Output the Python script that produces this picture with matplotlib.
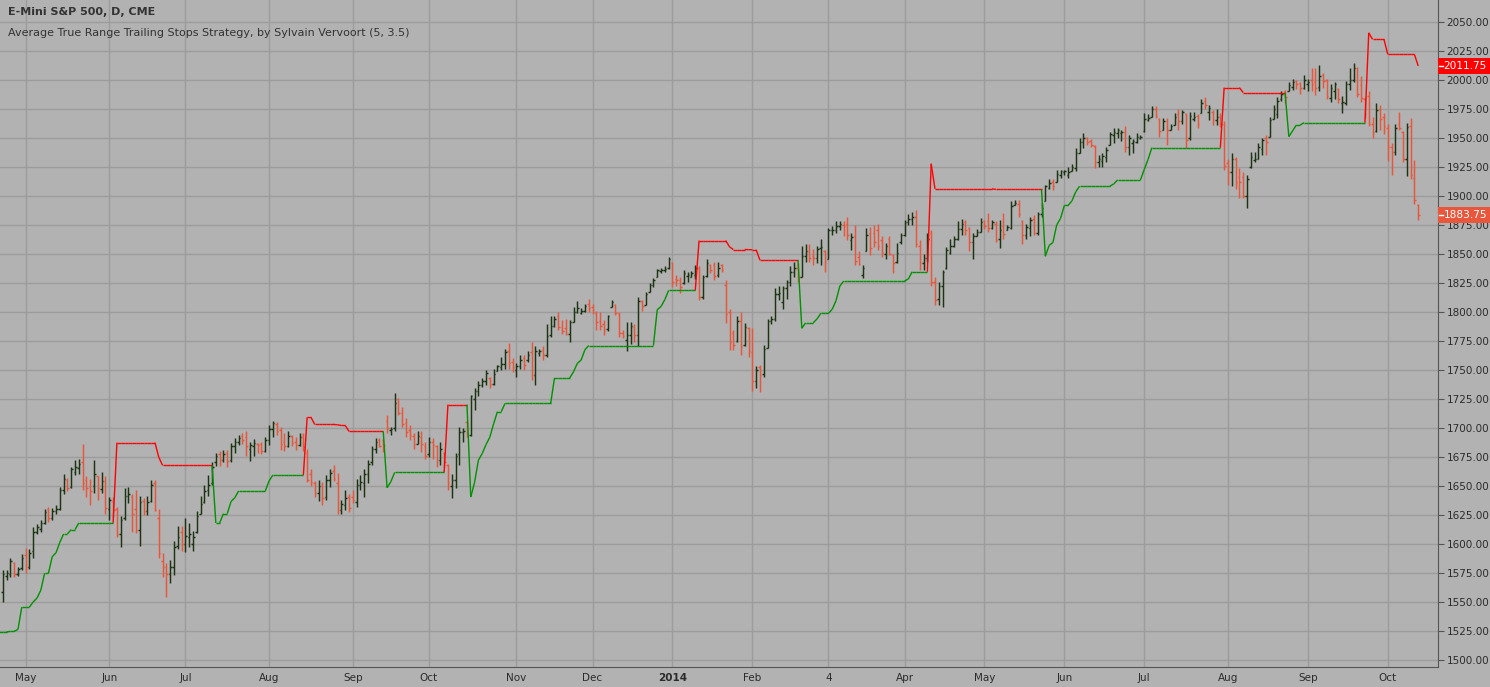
import numpy as np
import pandas as pd
import matplotlib
matplotlib.use('Agg')
import matplotlib.pyplot as plt
from matplotlib.collections import LineCollection
from matplotlib.lines import Line2D
from matplotlib.patches import Rectangle
import matplotlib.transforms as mtransforms

# E-Mini S&P 500 daily bars, 2013-04-23 .. 2014-10-13
opens = [
    1558, 1572, 1574, 1583, 1574, 1579, 1590, 1580, 1594, 1610, 1613, 1618, 1630, 1622, 1628, 1630, 1646, 1655, 1649, 1662,
    1665, 1670, 1655, 1650, 1650, 1658, 1647, 1654, 1630, 1637, 1630, 1608, 1622, 1641, 1640, 1630, 1612, 1637, 1628, 1637,
    1652, 1622, 1585, 1580, 1574, 1580, 1598, 1610, 1600, 1606, 1600, 1610, 1626, 1636, 1646, 1652, 1670, 1677, 1672, 1678,
    1672, 1684, 1688, 1693, 1692, 1682, 1684, 1686, 1686, 1680, 1689, 1699, 1703, 1698, 1688, 1684, 1693, 1688, 1685, 1692,
    1678, 1660, 1652, 1644, 1650, 1640, 1655, 1663, 1652, 1629, 1633, 1640, 1640, 1636, 1651, 1652, 1660, 1670, 1682, 1689,
    1689, 1706, 1698, 1700, 1725, 1713, 1704, 1698, 1693, 1686, 1692, 1684, 1677, 1688, 1684, 1672, 1678, 1668, 1650, 1655,
    1677, 1696, 1705, 1694, 1725, 1732, 1737, 1740, 1743, 1738, 1749, 1752, 1755, 1766, 1757, 1750, 1753, 1760, 1758, 1765,
    1745, 1764, 1767, 1763, 1780, 1788, 1796, 1787, 1786, 1781, 1791, 1800, 1799, 1801, 1807, 1804, 1799, 1792, 1789, 1785,
    1804, 1806, 1798, 1782, 1776, 1780, 1787, 1780, 1809, 1806, 1817, 1823, 1830, 1835, 1836, 1838, 1842, 1828, 1827, 1825,
    1831, 1830, 1832, 1838, 1813, 1831, 1840, 1840, 1832, 1840, 1823, 1800, 1782, 1775, 1792, 1771, 1786, 1765, 1740, 1752,
    1746, 1769, 1792, 1794, 1815, 1808, 1820, 1826, 1834, 1838, 1830, 1848, 1852, 1848, 1846, 1855, 1852, 1845, 1870, 1870,
    1874, 1875, 1876, 1862, 1865, 1847, 1832, 1852, 1868, 1868, 1870, 1862, 1850, 1863, 1849, 1843, 1860, 1866, 1877, 1880,
    1882, 1857, 1842, 1846, 1868, 1826, 1811, 1822, 1838, 1851, 1857, 1863, 1871, 1877, 1872, 1860, 1865, 1869, 1878, 1878,
    1872, 1876, 1863, 1874, 1870, 1872, 1892, 1893, 1878, 1866, 1872, 1880, 1868, 1884, 1895, 1907, 1912, 1912, 1918, 1920,
    1918, 1921, 1924, 1937, 1946, 1950, 1947, 1943, 1929, 1930, 1933, 1944, 1952, 1954, 1954, 1955, 1942, 1945, 1946, 1950,
    1956, 1965, 1968, 1975, 1966, 1957, 1964, 1957, 1961, 1970, 1964, 1970, 1950, 1966, 1969, 1971, 1982, 1972, 1972, 1965,
    1968, 1962, 1928, 1920, 1932, 1916, 1916, 1900, 1925, 1931, 1932, 1940, 1950, 1951, 1966, 1970, 1983, 1990, 1990, 1994,
    1999, 1997, 1993, 1996, 2000, 1998, 1994, 2004, 2000, 1984, 1990, 1992, 1980, 1980, 1996, 2000, 2010, 1995, 1983, 1986,
    1962, 1956, 1975, 1968, 1958, 1942, 1938, 1962, 1955, 1932, 1960, 1915, 1892,
]
highs = [
    1577, 1577, 1588, 1584, 1580, 1591, 1596, 1595, 1614, 1617, 1620, 1630, 1632, 1631, 1633, 1649, 1660, 1657, 1666, 1672,
    1673, 1686, 1658, 1656, 1672, 1658, 1662, 1658, 1640, 1640, 1632, 1624, 1648, 1649, 1643, 1646, 1641, 1639, 1641, 1655,
    1655, 1630, 1592, 1583, 1586, 1602, 1615, 1615, 1622, 1618, 1611, 1628, 1641, 1651, 1659, 1670, 1678, 1680, 1681, 1681,
    1687, 1691, 1694, 1695, 1697, 1688, 1690, 1687, 1688, 1692, 1702, 1706, 1705, 1701, 1695, 1697, 1694, 1692, 1695, 1695,
    1682, 1664, 1654, 1655, 1653, 1659, 1664, 1668, 1661, 1638, 1646, 1643, 1646, 1656, 1659, 1664, 1672, 1684, 1691, 1691,
    1690, 1711, 1701, 1730, 1726, 1718, 1708, 1702, 1695, 1697, 1697, 1688, 1692, 1691, 1685, 1688, 1679, 1669, 1660, 1678,
    1701, 1700, 1706, 1728, 1734, 1740, 1743, 1750, 1744, 1751, 1754, 1761, 1768, 1773, 1760, 1756, 1763, 1763, 1766, 1774,
    1770, 1768, 1770, 1789, 1796, 1796, 1800, 1793, 1794, 1793, 1804, 1809, 1803, 1807, 1811, 1807, 1801, 1800, 1793, 1797,
    1810, 1807, 1800, 1784, 1791, 1791, 1789, 1813, 1810, 1817, 1825, 1829, 1837, 1838, 1839, 1847, 1843, 1832, 1830, 1836,
    1834, 1835, 1840, 1839, 1832, 1845, 1841, 1843, 1843, 1841, 1827, 1802, 1784, 1796, 1800, 1790, 1787, 1786, 1753, 1754,
    1771, 1794, 1796, 1820, 1822, 1822, 1827, 1839, 1843, 1842, 1857, 1858, 1858, 1854, 1857, 1863, 1853, 1872, 1874, 1878,
    1878, 1878, 1882, 1868, 1875, 1852, 1840, 1872, 1873, 1875, 1876, 1865, 1859, 1865, 1850, 1859, 1868, 1879, 1884, 1886,
    1888, 1862, 1850, 1868, 1870, 1830, 1826, 1836, 1856, 1863, 1865, 1878, 1880, 1879, 1873, 1868, 1871, 1881, 1879, 1885,
    1879, 1878, 1879, 1885, 1875, 1895, 1896, 1896, 1879, 1876, 1882, 1883, 1886, 1894, 1909, 1914, 1914, 1922, 1922, 1922,
    1925, 1927, 1941, 1950, 1954, 1951, 1949, 1944, 1935, 1937, 1942, 1955, 1958, 1958, 1957, 1960, 1952, 1949, 1954, 1952,
    1971, 1970, 1977, 1977, 1967, 1967, 1967, 1962, 1971, 1975, 1974, 1971, 1972, 1972, 1970, 1983, 1985, 1978, 1974, 1975,
    1971, 1964, 1932, 1937, 1933, 1924, 1920, 1918, 1938, 1938, 1945, 1950, 1952, 1968, 1978, 1985, 1990, 1991, 1998, 2001,
    2000, 1998, 2004, 2001, 2010, 2010, 2013, 2006, 2001, 1996, 1998, 1993, 1986, 1999, 2010, 2014, 2011, 2003, 1985, 1990,
    1968, 1980, 1978, 1971, 1962, 1945, 1962, 1972, 1956, 1963, 1967, 1931, 1893,
]
lows = [
    1550, 1569, 1571, 1571, 1572, 1577, 1575, 1578, 1588, 1608, 1610, 1617, 1619, 1620, 1626, 1629, 1643, 1645, 1648, 1659,
    1660, 1646, 1640, 1633, 1644, 1638, 1644, 1626, 1620, 1623, 1606, 1597, 1620, 1635, 1610, 1609, 1598, 1625, 1625, 1636,
    1628, 1588, 1571, 1554, 1566, 1573, 1595, 1594, 1593, 1597, 1594, 1609, 1626, 1635, 1641, 1651, 1667, 1667, 1670, 1666,
    1670, 1678, 1685, 1686, 1676, 1671, 1676, 1678, 1677, 1679, 1685, 1692, 1694, 1681, 1680, 1683, 1684, 1681, 1684, 1680,
    1653, 1650, 1640, 1637, 1633, 1638, 1649, 1654, 1626, 1626, 1629, 1627, 1635, 1632, 1646, 1640, 1652, 1668, 1678, 1683,
    1679, 1695, 1694, 1697, 1711, 1701, 1692, 1689, 1682, 1686, 1679, 1673, 1675, 1673, 1666, 1668, 1666, 1646, 1639, 1648,
    1668, 1688, 1692, 1693, 1715, 1727, 1735, 1737, 1734, 1737, 1749, 1750, 1751, 1751, 1748, 1744, 1751, 1750, 1757, 1741,
    1737, 1762, 1758, 1761, 1778, 1787, 1784, 1781, 1780, 1774, 1791, 1799, 1798, 1800, 1800, 1798, 1784, 1784, 1780, 1783,
    1804, 1797, 1778, 1777, 1766, 1772, 1774, 1770, 1801, 1806, 1817, 1821, 1830, 1833, 1834, 1837, 1821, 1822, 1816, 1824,
    1826, 1830, 1828, 1810, 1811, 1830, 1833, 1827, 1830, 1834, 1790, 1767, 1767, 1774, 1763, 1770, 1761, 1732, 1734, 1731,
    1744, 1769, 1789, 1792, 1810, 1802, 1811, 1822, 1830, 1826, 1830, 1843, 1843, 1840, 1842, 1840, 1834, 1845, 1866, 1868,
    1870, 1865, 1862, 1853, 1840, 1840, 1829, 1852, 1849, 1856, 1853, 1847, 1845, 1849, 1833, 1842, 1858, 1865, 1875, 1875,
    1856, 1836, 1836, 1843, 1822, 1806, 1806, 1804, 1837, 1850, 1856, 1862, 1866, 1866, 1852, 1845, 1865, 1869, 1871, 1869,
    1871, 1860, 1855, 1863, 1870, 1871, 1892, 1882, 1858, 1863, 1865, 1866, 1866, 1882, 1895, 1906, 1905, 1912, 1915, 1918,
    1915, 1921, 1921, 1937, 1941, 1944, 1942, 1924, 1925, 1925, 1929, 1944, 1945, 1950, 1947, 1938, 1935, 1937, 1945, 1949,
    1955, 1964, 1968, 1967, 1951, 1957, 1944, 1957, 1961, 1957, 1962, 1941, 1948, 1964, 1958, 1971, 1975, 1965, 1961, 1961,
    1959, 1922, 1909, 1908, 1906, 1898, 1898, 1889, 1924, 1929, 1932, 1935, 1935, 1951, 1966, 1967, 1982, 1980, 1990, 1991,
    1992, 1988, 1992, 1990, 1990, 1987, 1990, 1993, 1983, 1981, 1983, 1980, 1971, 1978, 1991, 1998, 1985, 1981, 1967, 1960,
    1950, 1955, 1957, 1953, 1930, 1918, 1935, 1957, 1929, 1917, 1914, 1893, 1879,
]
closes = [
    1574, 1575, 1585, 1574, 1578, 1588, 1580, 1592, 1610, 1614, 1618, 1627, 1622, 1628, 1630, 1646, 1656, 1648, 1664, 1666,
    1669, 1652, 1648, 1645, 1660, 1648, 1654, 1631, 1638, 1629, 1608, 1620, 1641, 1643, 1626, 1612, 1636, 1628, 1636, 1651,
    1629, 1592, 1580, 1574, 1580, 1597, 1606, 1600, 1607, 1608, 1606, 1624, 1634, 1645, 1651, 1666, 1676, 1672, 1677, 1671,
    1684, 1688, 1691, 1689, 1684, 1685, 1687, 1685, 1680, 1689, 1699, 1704, 1697, 1686, 1684, 1693, 1687, 1685, 1692, 1683,
    1655, 1653, 1644, 1650, 1639, 1655, 1661, 1656, 1629, 1634, 1639, 1631, 1638, 1651, 1653, 1660, 1669, 1682, 1688, 1684,
    1685, 1700, 1699, 1721, 1713, 1703, 1696, 1694, 1686, 1693, 1686, 1676, 1688, 1685, 1672, 1682, 1670, 1652, 1655, 1676,
    1696, 1697, 1693, 1727, 1732, 1737, 1740, 1747, 1738, 1746, 1753, 1755, 1765, 1756, 1752, 1753, 1758, 1754, 1763, 1745,
    1766, 1766, 1763, 1779, 1788, 1794, 1787, 1783, 1781, 1791, 1800, 1803, 1801, 1805, 1803, 1800, 1791, 1788, 1785, 1796,
    1808, 1799, 1782, 1779, 1780, 1788, 1780, 1809, 1805, 1815, 1823, 1827, 1836, 1836, 1837, 1845, 1826, 1827, 1821, 1833,
    1832, 1833, 1838, 1813, 1830, 1842, 1836, 1831, 1838, 1836, 1798, 1774, 1771, 1792, 1770, 1787, 1766, 1740, 1750, 1745,
    1768, 1792, 1794, 1815, 1816, 1820, 1826, 1834, 1838, 1830, 1848, 1852, 1846, 1846, 1854, 1856, 1843, 1870, 1870, 1874,
    1876, 1874, 1866, 1864, 1844, 1841, 1838, 1866, 1855, 1860, 1857, 1851, 1857, 1850, 1842, 1851, 1866, 1877, 1880, 1882,
    1858, 1842, 1846, 1863, 1826, 1810, 1822, 1834, 1853, 1857, 1863, 1871, 1876, 1870, 1860, 1865, 1869, 1877, 1874, 1872,
    1877, 1862, 1870, 1867, 1873, 1891, 1894, 1884, 1866, 1873, 1879, 1868, 1884, 1889, 1908, 1911, 1908, 1919, 1921, 1921,
    1920, 1925, 1937, 1946, 1950, 1946, 1944, 1929, 1932, 1934, 1939, 1953, 1955, 1957, 1955, 1942, 1950, 1947, 1951, 1951,
    1966, 1967, 1975, 1969, 1956, 1964, 1957, 1960, 1968, 1964, 1972, 1948, 1969, 1968, 1962, 1980, 1978, 1976, 1965, 1968,
    1962, 1926, 1920, 1932, 1912, 1912, 1900, 1914, 1933, 1932, 1942, 1948, 1946, 1965, 1975, 1982, 1988, 1985, 1995, 1998,
    1996, 1993, 2000, 1998, 1996, 1993, 2003, 1999, 1986, 1993, 1996, 1983, 1981, 1996, 2000, 2010, 1988, 1984, 1970, 1962,
    1955, 1974, 1966, 1960, 1942, 1938, 1958, 1958, 1932, 1959, 1918, 1896, 1883.75,
]

# trailing stop level just before the first visible bar
stop_start = 1524.0
atr_len = 5
atr_mult = 3.5
min_tick = 0.25

holidays = ['2013-05-27', '2013-07-04', '2013-09-02', '2013-11-28', '2013-12-25', '2014-01-01',
            '2014-01-20', '2014-02-17', '2014-04-18', '2014-05-26', '2014-07-04', '2014-09-01']
dates = pd.bdate_range('2013-04-23', '2014-10-13', freq='C', holidays=holidays)

bg = '#b2b2b2'
grid_c = '#9c9c9c'
up_c = '#1c3314'
dn_c = '#e8573c'
text_c = '#2b2b2b'

n = len(closes)
o = np.array(opens, float); h = np.array(highs, float)
l = np.array(lows, float); c = np.array(closes, float)

# true range and its 5 bar average
prev_c = np.concatenate([[c[0]], c[:-1]])
tr = np.maximum(h - l, np.maximum(np.abs(h - prev_c), np.abs(l - prev_c)))
atr = pd.Series(tr).rolling(atr_len, min_periods=1).mean().values

# ATR trailing stop (Vervoort)
stop = np.zeros(n)
pos = np.zeros(n, int)
prev_stop, prev_close, prev_pos = stop_start, c[0], 1
for i in range(n):
    loss = atr_mult * atr[i]
    if c[i] > prev_stop and prev_close > prev_stop:
        s = max(prev_stop, c[i] - loss)
    elif c[i] < prev_stop and prev_close < prev_stop:
        s = min(prev_stop, c[i] + loss)
    elif c[i] > prev_stop:
        s = c[i] - loss
    else:
        s = c[i] + loss
    if prev_close < prev_stop and c[i] > prev_stop:
        p = 1
    elif prev_close > prev_stop and c[i] < prev_stop:
        p = -1
    else:
        p = prev_pos
    stop[i], pos[i] = s, p
    prev_stop, prev_close, prev_pos = s, c[i], p

fig = plt.figure(figsize=(14.9, 6.87), dpi=100)
fig.patch.set_facecolor(bg)
ax = fig.add_axes([0, 20 / 687, 1438 / 1490, 667 / 687])
ax.set_facecolor(bg)

# month ticks
tick_pos, tick_lab = [], []
for (yr, mo), grp in pd.Series(np.arange(n), index=dates).groupby([dates.year, dates.month]):
    idx = grp.iloc[0]
    if yr == 2013 and mo == 4:
        continue
    if yr == 2014 and mo == 3:
        idx = idx + 1
        lab = str(dates[idx].day)
    elif mo == 1:
        lab = str(yr)
    else:
        lab = dates[idx].strftime('%b')
    tick_pos.append(idx)
    tick_lab.append(lab)

ax.set_xticks(tick_pos)
ax.set_xticklabels(tick_lab, fontsize=7.5, color=text_c)
for t in ax.get_xticklabels():
    if t.get_text() == '2014':
        t.set_fontweight('bold')
ax.set_yticks(np.arange(1500, 2051, 25))
ax.yaxis.tick_right()
ax.yaxis.set_major_formatter(plt.FormatStrFormatter('%.2f'))
ax.tick_params(axis='y', labelsize=7.5, labelcolor=text_c, color='#555555', length=4, pad=2)
ax.tick_params(axis='x', length=0, pad=4)
ax.grid(True, color=grid_c, linewidth=1.0)
ax.set_axisbelow(True)
for side in ['top', 'left']:
    ax.spines[side].set_visible(False)
ax.spines['right'].set_color('#555555')
ax.spines['bottom'].set_color('#555555')

# OHLC bars
segs, cols = [], []
tk = 0.4
for i in range(n):
    col = up_c if c[i] >= o[i] else dn_c
    segs += [[(i, l[i]), (i, h[i])], [(i - tk, o[i]), (i, o[i])], [(i, c[i]), (i + tk, c[i])]]
    cols += [col] * 3
ax.add_collection(LineCollection(segs, colors=cols, linewidths=1.05))

# trailing stop line, each segment coloured by the bar it ends on
sx = np.concatenate([[-1], np.arange(n)])
sy = np.concatenate([[stop_start], stop])
spos = np.concatenate([[1], pos])
ssegs = [[(sx[k - 1], sy[k - 1]), (sx[k], sy[k])] for k in range(1, len(sx))]
scols = ['#ff0000' if spos[k] == -1 else '#009100' for k in range(1, len(sx))]
ax.add_collection(LineCollection(ssegs, colors=scols, linewidths=1.0))

ax.set_xlim(-0.725, 377.2)
ax.set_ylim(1493.7, 2068.7)

# last value labels on the price scale
px_per_pt = 667 / (2068.7 - 1493.7)
box_h = 16 / px_per_pt
trans = mtransforms.blended_transform_factory(fig.transFigure, ax.transData)
for val, fc in [(stop[-1], '#ff0000'), (c[-1], dn_c)]:
    shown = round(val / min_tick) * min_tick
    fig.add_artist(Rectangle((1438 / 1490, val - box_h / 2), 52 / 1490, box_h, transform=trans,
                             facecolor=fc, edgecolor='none', zorder=8))
    fig.add_artist(Line2D([1439 / 1490, 1443 / 1490], [val, val], transform=trans,
                          color='white', linewidth=1.0, zorder=9))
    fig.text(1487 / 1490, val, '%.2f' % shown, transform=trans, fontsize=7.6, color='white',
             ha='right', va='center', zorder=10)

fig.text(8 / 1490, 1 - 12 / 687, 'E-Mini S&P 500, D, CME', fontsize=8, fontweight='bold',
         color='#333333', ha='left', va='center')
fig.text(8 / 1490, 1 - 33 / 687, 'Average True Range Trailing Stops Strategy, by Sylvain Vervoort (5, 3.5)',
         fontsize=8, color='#333333', ha='left', va='center')

fig.savefig('out.png', dpi=100, facecolor=bg)
